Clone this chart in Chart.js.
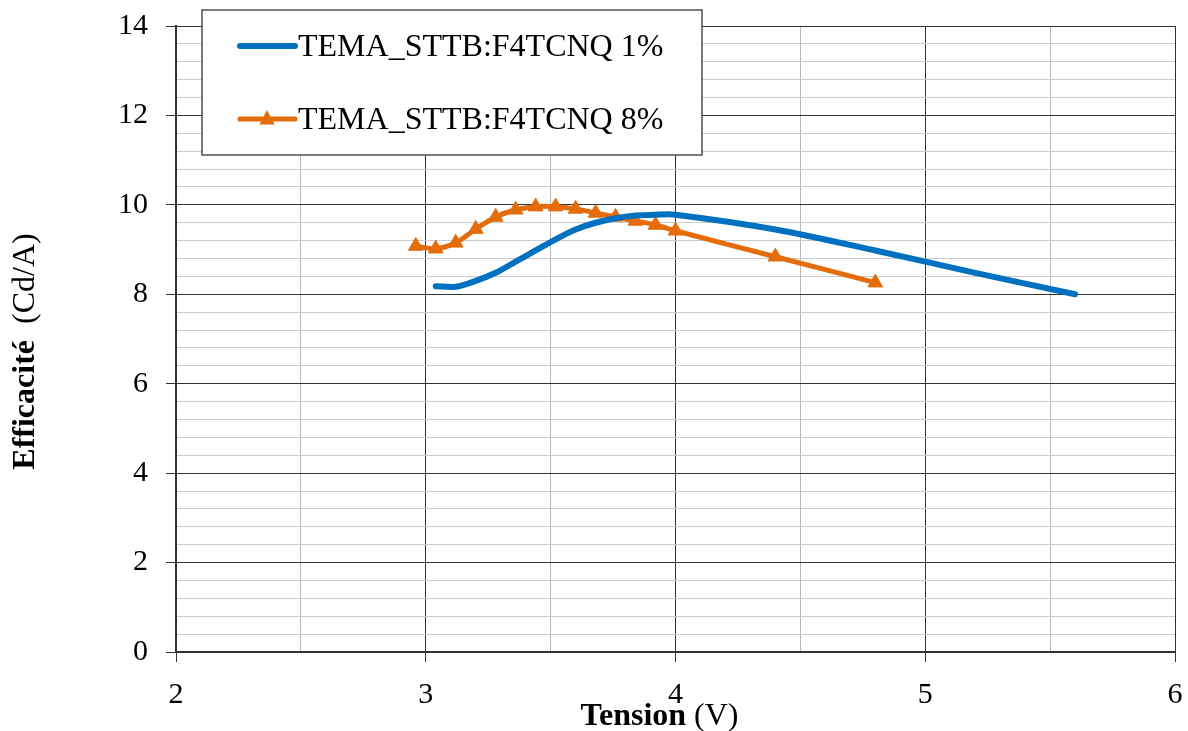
<!DOCTYPE html>
<html><head><meta charset="utf-8">
<script src="https://cdn.jsdelivr.net/npm/chart.js@4.4.0/dist/chart.umd.min.js"></script>
<style>html,body{margin:0;padding:0;background:#fff;}#wrap{width:1188px;height:731px;position:relative;}canvas{display:block;}</style>
</head><body><div id="wrap"><canvas id="c" width="1188" height="731"></canvas></div>
<script>
// ---- data ----
const seriesLabels = ['TEMA_STTB:F4TCNQ 1%', 'TEMA_STTB:F4TCNQ 8%'];
const tension1 = [3.04, 3.12, 3.20, 3.28, 3.36, 3.44, 3.52, 3.60, 3.68, 3.76, 3.84, 3.92, 4.00, 4.40, 4.80, 5.20, 5.60];
const efficacite1 = [8.18, 8.17, 8.30, 8.48, 8.73, 8.98, 9.23, 9.45, 9.60, 9.70, 9.76, 9.78, 9.78, 9.45, 8.98, 8.48, 8.00];
const tension8 = [2.96, 3.04, 3.12, 3.20, 3.28, 3.36, 3.44, 3.52, 3.60, 3.68, 3.76, 3.84, 3.92, 4.00, 4.40, 4.80];
const efficacite8 = [9.08, 9.02, 9.15, 9.46, 9.73, 9.89, 9.96, 9.96, 9.91, 9.82, 9.73, 9.64, 9.55, 9.42, 8.84, 8.26];
const xTickLabels = [2, 3, 4, 5, 6];
const yTickLabels = [0, 2, 4, 6, 8, 10, 12, 14];
const xTitleBold = 'Tension', xTitleNormal = ' (V)';
const yTitleBold = 'Efficacité', yTitleNormal = '  (Cd/A)';
const colors = ['#0070C0', '#E46C0A'];

const SERIF = '"Liberation Serif", "Times New Roman", serif';
const isIn = (v, arr) => arr.some(t => Math.abs(t - v) < 1e-6);

const pts = (xs, ys) => xs.map((x, i) => ({x: x, y: ys[i]}));

const customDraw = {
  id: 'customDraw',
  afterDraw(chart) {
    const ctx = chart.ctx;
    ctx.save();
    // legend box
    const bx = 202, by = 10, bw = 500, bh = 145;
    ctx.fillStyle = '#fff';
    ctx.fillRect(bx, by, bw, bh);
    ctx.strokeStyle = '#505050';
    ctx.lineWidth = 1.5;
    ctx.strokeRect(bx, by, bw, bh);
    const rows = [46, 119];
    ctx.font = '32px ' + SERIF;
    ctx.textBaseline = 'middle';
    ctx.textAlign = 'left';
    chart.data.datasets.forEach((ds, i) => {
      const y = rows[i];
      ctx.strokeStyle = ds.borderColor;
      ctx.lineWidth = ds.borderWidth;
      ctx.lineCap = 'round';
      ctx.beginPath(); ctx.moveTo(240, y); ctx.lineTo(295, y); ctx.stroke();
      if (ds.pointStyle === 'triangle') {
        const r = 9, cx = 267;
        ctx.fillStyle = ds.borderColor;
        ctx.beginPath();
        ctx.moveTo(cx, y - r);
        ctx.lineTo(cx + r * 0.85, y + r * 0.6);
        ctx.lineTo(cx - r * 0.85, y + r * 0.6);
        ctx.closePath(); ctx.fill();
      }
      ctx.fillStyle = '#000';
      ctx.fillText(ds.label, 298, y + 2);
    });
    // x title
    ctx.textBaseline = 'alphabetic';
    ctx.font = 'bold 32px ' + SERIF;
    const wb = ctx.measureText(xTitleBold).width;
    ctx.font = '32px ' + SERIF;
    const wn = ctx.measureText(xTitleNormal).width;
    let sx = 659.5 - (wb + wn) / 2;
    ctx.fillStyle = '#000';
    ctx.font = 'bold 32px ' + SERIF;
    ctx.fillText(xTitleBold, sx, 725);
    ctx.font = '32px ' + SERIF;
    ctx.fillText(xTitleNormal, sx + wb, 725);
    // y title
    ctx.translate(34, 351.5);
    ctx.rotate(-Math.PI / 2);
    ctx.font = 'bold 32px ' + SERIF;
    const yb = ctx.measureText(yTitleBold).width;
    ctx.font = '32px ' + SERIF;
    const yn = ctx.measureText(yTitleNormal).width;
    let sy = -(yb + yn) / 2;
    ctx.font = 'bold 32px ' + SERIF;
    ctx.fillText(yTitleBold, sy, 0);
    ctx.font = '32px ' + SERIF;
    ctx.fillText(yTitleNormal, sy + yb, 0);
    ctx.restore();
  }
};

new Chart(document.getElementById('c'), {
  type: 'line',
  data: {
    datasets: [
      {label: seriesLabels[0], data: pts(tension1, efficacite1), borderColor: colors[0], backgroundColor: colors[0],
       borderWidth: 6, pointRadius: 0, tension: 0.3, borderCapStyle: 'round', borderJoinStyle: 'round'},
      {label: seriesLabels[1], data: pts(tension8, efficacite8), borderColor: colors[1], backgroundColor: colors[1],
       borderWidth: 5, pointStyle: 'triangle', pointRadius: 8.5, pointBorderWidth: 1,
       pointBackgroundColor: colors[1], pointBorderColor: colors[1], tension: 0.3, borderJoinStyle: 'round'}
    ]
  },
  options: {
    responsive: false, animation: false, devicePixelRatio: 1,
    layout: {padding: {top: 26, right: 13, left: 0, bottom: 0}},
    plugins: {legend: {display: false}, tooltip: {enabled: false}},
    scales: {
      x: {
        type: 'linear', min: 2, max: 6,
        ticks: {stepSize: 0.5, autoSkip: false, maxRotation: 0, color: '#000', padding: 15,
                font: {family: SERIF, size: 30},
                callback: v => isIn(v, xTickLabels) ? String(v) : ''},
        grid: {
          color: c => isIn(c.tick.value, xTickLabels) ? '#333' : '#b8b8b8',
          lineWidth: 1,
          tickColor: c => isIn(c.tick.value, xTickLabels) ? '#333' : 'rgba(0,0,0,0)',
          tickLength: 10
        },
        border: {display: true, color: '#333', width: 2},
        afterFit: s => { s.height = 79; s.paddingLeft = 0; s.paddingRight = 0; }
      },
      y: {
        type: 'linear', min: 0, max: 14,
        ticks: {stepSize: 0.4, autoSkip: false, color: '#000', padding: 18,
                font: {family: SERIF, size: 30},
                callback: v => isIn(v, yTickLabels) ? String(Math.round(v)) : ''},
        grid: {
          color: c => isIn(c.tick.value, yTickLabels) ? '#333' : '#cccccc',
          lineWidth: 1,
          tickColor: c => isIn(c.tick.value, yTickLabels) ? '#333' : 'rgba(0,0,0,0)',
          tickLength: 10
        },
        border: {display: true, color: '#333', width: 2},
        afterFit: s => { s.width = 176; s.paddingTop = 0; s.paddingBottom = 0; }
      }
    }
  },
  plugins: [customDraw]
});
</script>
</body></html>
